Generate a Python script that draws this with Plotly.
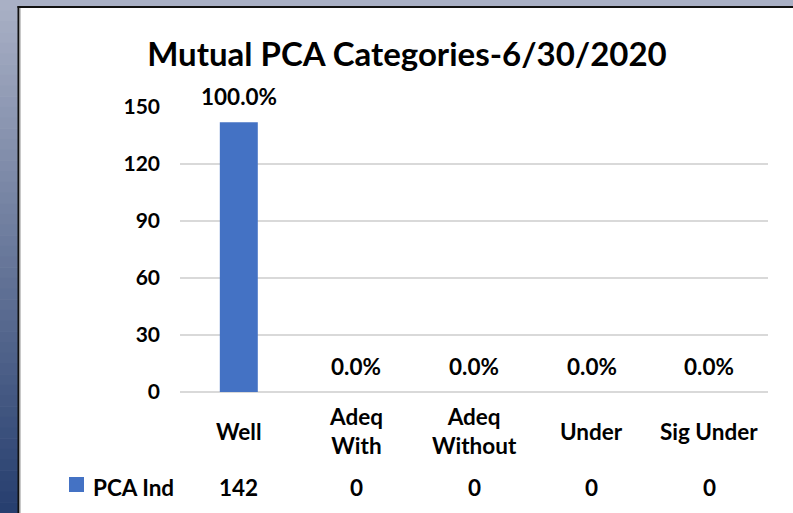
import plotly.graph_objects as go

categories = ["Well", "Adeq With", "Adeq Without", "Under", "Sig Under"]
category_labels = ["Well", "Adeq<br>With", "Adeq<br>Without", "Under", "Sig Under"]
series_name = "PCA Ind"
values = [142, 0, 0, 0, 0]
y_ticks = [0, 30, 60, 90, 120, 150]
title_text = "Mutual PCA Categories-6/30/2020"

total = sum(values)
pct_labels = [f"{v / total * 100:.1f}%" for v in values]

W, H = 793, 513
L, R, T, B = 180, 25, 107, 121
PW, PH = W - L - R, H - T - B
FONT = "Lato"
BLUE = "#4472C4"


def px(x):
    return (x - L) / PW


def py(y):
    return (H - B - y) / PH


fig = go.Figure()
fig.add_trace(go.Bar(
    x=categories, y=values, name=series_name,
    marker=dict(color=BLUE, line=dict(width=0)),
    width=0.323, showlegend=False, hoverinfo="x+y",
))

shapes = []
# top strip
shapes.append(dict(type="rect", xref="paper", yref="paper", x0=px(0), x1=px(W), y0=py(6.5), y1=py(0),
                   fillcolor="#a9b0c5", line=dict(width=0), layer="below"))
# left gradient strip
top_c = (0xa9, 0xb0, 0xc5)
bot_c = (0x27, 0x3f, 0x6f)
n = 48
for i in range(n):
    t = i / (n - 1)
    c = tuple(round(top_c[k] + (bot_c[k] - top_c[k]) * t) for k in range(3))
    y0 = H * i / n
    y1 = H * (i + 1) / n + 0.6
    shapes.append(dict(type="rect", xref="paper", yref="paper", x0=px(0), x1=px(18.5), y0=py(y1), y1=py(y0),
                       fillcolor="rgb(%d,%d,%d)" % c, line=dict(width=0), layer="below"))
# dark border
shapes.append(dict(type="line", xref="paper", yref="paper", x0=px(18.5), x1=px(18.5), y0=py(W), y1=py(6),
                   line=dict(color="#111111", width=2), layer="below"))
shapes.append(dict(type="line", xref="paper", yref="paper", x0=px(17.5), x1=px(W + 5), y0=py(7), y1=py(7),
                   line=dict(color="#111111", width=2), layer="below"))
shapes.append(dict(type="line", xref="paper", yref="paper", x0=px(20.3), x1=px(20.3), y0=py(W), y1=py(8),
                   line=dict(color="#bbbbbb", width=1), layer="below"))
# legend key
shapes.append(dict(type="rect", xref="paper", yref="paper", x0=px(69), x1=px(84), y0=py(492), y1=py(477),
                   fillcolor=BLUE, line=dict(width=0)))

annotations = []
lab_font = dict(family=FONT, size=22.5, color="#000000")
for c, lab in zip(categories, category_labels):
    annotations.append(dict(x=c, xref="x", y=py(431), yref="paper", text="<b>%s</b>" % lab,
                            showarrow=False, xanchor="center", yanchor="middle", font=lab_font))
for c, v, p in zip(categories, values, pct_labels):
    annotations.append(dict(x=c, xref="x", y=v, yref="y", text="<b>%s</b>" % p, yshift=26,
                            showarrow=False, xanchor="center", yanchor="middle", font=lab_font))
    annotations.append(dict(x=c, xref="x", y=py(487), yref="paper", text="<b>%s</b>" % v,
                            showarrow=False, xanchor="center", yanchor="middle", font=lab_font))
annotations.append(dict(x=px(91), xref="paper", y=py(487), yref="paper", text="<b>%s</b>" % series_name,
                        showarrow=False, xanchor="left", yanchor="middle", font=lab_font))

fig.update_layout(
    width=W, height=H, autosize=False,
    margin=dict(l=L, r=R, t=T, b=B, pad=0),
    paper_bgcolor="#ffffff", plot_bgcolor="#ffffff",
    font=dict(family=FONT, color="#000000"),
    title=dict(text="<b>%s</b>" % title_text, x=407 / W, xref="container", xanchor="center",
               y=1 - 54 / H, yref="container", yanchor="middle",
               font=dict(family=FONT, size=33, color="#000000")),
    xaxis=dict(showticklabels=False, showgrid=False, zeroline=False, showline=False, ticks="",
               range=[-0.5, 4.5]),
    yaxis=dict(range=[0, 150], tickvals=y_ticks, ticktext=["<b>%d</b>" % t for t in y_ticks],
               tickfont=dict(family=FONT, size=21, color="#000000"),
               showgrid=True, gridcolor="#d9d9d9", gridwidth=1.5,
               zeroline=True, zerolinecolor="#d9d9d9", zerolinewidth=1.5,
               showline=False, ticks="", ticklabelstandoff=19),
    shapes=shapes, annotations=annotations, bargap=0.68,
)

fig.write_html("out.html", config={"displayModeBar": False},
               post_script="document.body.style.margin='0';document.body.style.overflow='hidden';")
